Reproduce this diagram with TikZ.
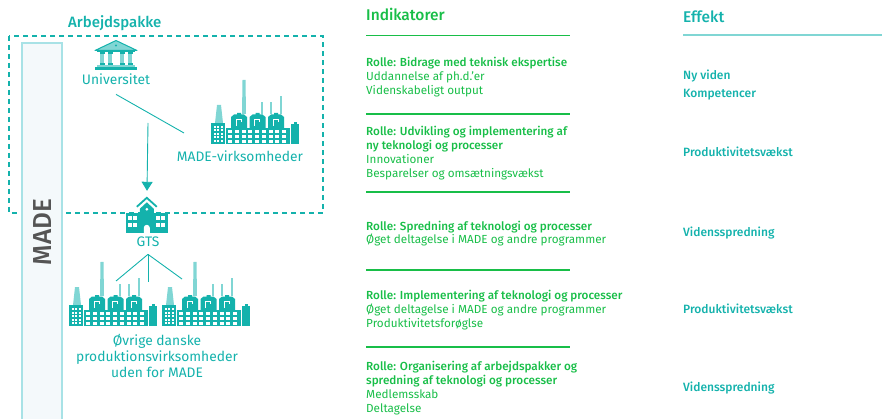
\documentclass[tikz,border=0pt]{standalone}
\usepackage{fontspec}
\setmainfont{Fira Sans}[BoldFont={Fira Sans Medium}]
\usetikzlibrary{arrows.meta}
\definecolor{madeteal}{RGB}{20,178,172}
\definecolor{madelight}{RGB}{128,214,212}
\definecolor{madegreen}{RGB}{24,190,72}
\definecolor{madegrey}{RGB}{85,85,85}
\definecolor{madebar}{RGB}{244,249,251}
\definecolor{madebarline}{RGB}{168,226,230}
\begin{document}
\begin{tikzpicture}[x=1pt,y=-1pt,lbl/.style={font=\fontsize{13.8}{16}\selectfont,text=madeteal,inner sep=0pt,anchor=base},hdr/.style={font=\fontsize{15.5}{16}\selectfont\bfseries,inner sep=0pt,anchor=base west},indik/.style={font=\fontsize{11.7}{13.9}\selectfont,text=madegreen,align=left,inner sep=0pt,anchor=base west},effekt/.style={font=\fontsize{12}{13}\selectfont\bfseries,text=madeteal,inner sep=0pt,anchor=base west},indrule/.style={madegreen,line width=1.1pt},link/.style={madeteal,line width=0.9pt},iconbox/.style={inner sep=0pt,minimum width=42pt,minimum height=36pt},
factory/.pic={
\fill[madelight] (4,43) -- (6,25) -- (10,25) -- (12,43) -- cycle;
\fill[madelight] (31,34) -- (31.5,0) -- (34.5,0) -- (35,34) -- cycle;
\fill[madelight] (50,34) rectangle (52,22);
\fill[madelight] (59,34) rectangle (61,22);
\fill[madelight] (69,34) rectangle (71,16);
\fill[madeteal] (0,43) rectangle (14,64);
\fill[madeteal] (15,48) rectangle (79,64);
\foreach \a in {20,38.5,57} {
\fill[madeteal] (\a,48) -- (\a,37) -- (\a+3,34.5) -- (\a+6,34.5) -- (\a+6,33) -- (\a+10,33) -- (\a+10,34.5) -- (\a+13,34.5) -- (\a+16,37) -- (\a+16,48) -- cycle;
\draw[white,line width=0.6pt] (\a+5,46) |- (\a+10,39.5) -- (\a+10,42);
}
\fill[madeteal] (80,44) rectangle (88,64);
\fill[madeteal] (82.5,42) rectangle (85.5,44);
\foreach \r in {50,55,60} \foreach \c in {0,...,8} \fill[white] (17+\c*6.75,\r) rectangle ++(4,2.6);
\foreach \r in {0,...,4} \foreach \c in {0,1,2} \fill[white] (2.5+\c*3.5,46+\r*3.5) rectangle ++(2,2);
},
univ/.pic={
\fill[madelight] (1,10) -- (21,0.5) -- (41,10) -- cycle;
\draw[madeteal,line width=1pt,line join=round] (0,10.5) -- (21,0.5) -- (42,10.5) -- cycle;
\fill[madeteal] (21,5.5) circle (1.2);
\fill[madeteal] (2,11) rectangle (40,12.5);
\foreach \c in {5,13,25,33} {
\fill[madelight] (\c,12.5) rectangle ++(4,12);
\fill[madeteal] (\c-0.5,12.5) rectangle ++(5,1.3);
\fill[madeteal] (\c-0.5,23.5) rectangle ++(5,1.5);
}
\fill[madelight] (2,25) rectangle (40,27);
\fill[madeteal] (0,27.5) rectangle (42,30);
},
school/.pic={
\draw[madeteal,line width=1.8pt] (11,10) -- (21,1) -- (31,10);
\fill[madeteal] (14,12) -- (21,5.5) -- (28,12) -- (28,36) -- (14,36) -- cycle;
\fill[madeteal] (0,16) rectangle (42,36);
\fill[white] (21,12.5) circle (1.5);
\foreach \x in {2.5,7.5,30.5,35.5} \foreach \y in {19.5,26.5} \fill[white] (\x,\y) rectangle ++(4,4);
\fill[white] (18,36) -- (18,31) arc (180:360:3) -- (24,36) -- cycle;
}]
\useasboundingbox (0,0) rectangle (882,419);
% work package frame and MADE bar
\draw[madeteal,line width=1.4pt,dash pattern=on 5pt off 4pt] (9,36) rectangle (323,213);
\draw[madebarline,fill=madebar,line width=1.2pt] (22,43) rectangle (62,420);
\node[font=\fontsize{26}{26}\selectfont\bfseries,text=madegrey,rotate=90] (made) at (43,232) {MADE};
\node[hdr,text=madeteal,font=\fontsize{15}{16}\selectfont\bfseries] (ap) at (68,28) {Arbejdspakke};
% actors
\pic at (95,40) {univ};
\node[lbl] (uni) at (116,85) {Universitet};
\pic at (211,80) {factory};
\node[lbl] (mv) at (240,161.5) {MADE-virksomheder};
\node[iconbox] (gtsi) at (147,215) {};
\pic at (gtsi.north west) {school};
\node[lbl] (gts) at (148,247) {GTS};
\pic at (69,262) {factory};
\pic at (162,262) {factory};
\node[lbl,align=center,anchor=north] (ovr) at (157,334) {Øvrige danske\\produktionsvirksomheder\\uden for MADE};
\coordinate (mvl) at (184,133);
\coordinate (arr) at (148,123);
\coordinate (g1) at (116,281);
\coordinate (g2) at (148,282);
\coordinate (g3) at (182,279);
\draw[link] ([yshift=-9pt]uni.south) -- (mvl);
\draw[link,-{Triangle[width=11pt,length=9pt]}] (arr) -- ([yshift=6pt]gtsi.north);
\draw[link] ([yshift=-7pt]gts.south) -- (g1);
\draw[link] ([yshift=-7pt]gts.south) -- (g2);
\draw[link] ([yshift=-7pt]gts.south) -- (g3);
% indicators
\node[hdr,text=madegreen] (ind) at (366,21) {Indikatorer};
\foreach \y in {35.7,114,192,270,347} \draw[indrule] (366,\y) -- (570,\y);
\node[indik] (r1) at (366,94.3) {\textbf{Rolle: Bidrage med teknisk ekspertise}\\Uddannelse af ph.d.'er\\Videnskabeligt output};
\node[indik] (r2) at (366,177.4) {\textbf{Rolle: Udvikling og implementering af}\\\textbf{ny teknologi og processer}\\Innovationer\\Besparelser og omsætningsvækst};
\node[indik] (r3) at (366,244) {\textbf{Rolle: Spredning af teknologi og processer}\\Øget deltagelse i MADE og andre programmer};
\node[indik] (r4) at (366,327.6) {\textbf{Rolle: Implementering af teknologi og processer}\\Øget deltagelse i MADE og andre programmer\\Produktivitetsforøglse};
\node[indik] (r5) at (366,412.6) {\textbf{Rolle: Organisering af arbejdspakker og}\\\textbf{spredning af teknologi og processer}\\Medlemsskab\\Deltagelse};
% effects
\node[hdr,text=madeteal] (eff) at (683,22.3) {Effekt};
\draw[madelight,line width=1.5pt] (683,35) -- (882,35);
\node[effekt] (e1) at (683,80) {Ny viden};
\node[effekt] (e2) at (683,98) {Kompetencer};
\node[effekt] (e3) at (683,156.7) {Produktivitetsvækst};
\node[effekt] (e4) at (683,236.7) {Vidensspredning};
\node[effekt] (e5) at (683,313.3) {Produktivitetsvækst};
\node[effekt] (e6) at (683,391.7) {Vidensspredning};
\end{tikzpicture}
\end{document}
